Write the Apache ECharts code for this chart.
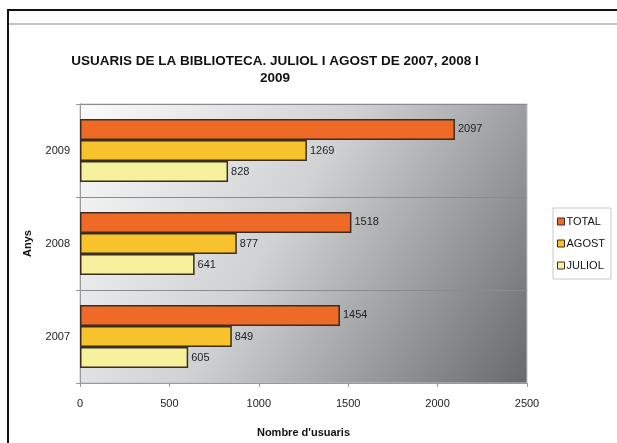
<!DOCTYPE html>
<html>
<head>
<meta charset="utf-8">
<script src="https://cdn.jsdelivr.net/npm/echarts@6/dist/echarts.min.js"></script>
<style>
  html, body { margin: 0; padding: 0; background: #fff; }
  #chart { width: 617px; height: 443px; }
</style>
</head>
<body>
<div id="chart"></div>
<script>
var anys = ['2007', '2008', '2009'];
var total = [1454, 1518, 2097];
var agost = [849, 877, 1269];
var juliol = [605, 641, 828];
var seriesNames = ['TOTAL', 'AGOST', 'JULIOL'];
var seriesColors = ['#ef6a26', '#f7c22b', '#f7f09c'];

var chart = echarts.init(document.getElementById('chart'));
var font = 'Liberation Sans, Arial, sans-serif';

function barSerie(name, data, color) {
  return {
    name: name,
    type: 'bar',
    data: data,
    barGap: 0,
    barCategoryGap: '32%',
    itemStyle: { color: color, borderColor: '#3a2e22', borderWidth: 1.5 },
    label: {
      show: true,
      position: 'right',
      distance: 3,
      color: '#222',
      fontFamily: font,
      fontSize: 11
    }
  };
}

chart.setOption({
  animation: false,
  backgroundColor: '#fff',
  graphic: [
    // frame of the screenshot
    { type: 'rect', shape: { x: 7, y: 9, width: 2, height: 434 }, style: { fill: '#111' } },
    { type: 'rect', shape: { x: 7, y: 9, width: 610, height: 2 }, style: { fill: '#111' } },
    { type: 'rect', shape: { x: 9, y: 23, width: 608, height: 2 }, style: { fill: '#c4c4c4' } }
  ],
  title: {
    text: 'USUARIS DE LA BIBLIOTECA. JULIOL I AGOST DE 2007, 2008 I\n2009',
    left: 270,
    top: 48,
    textAlign: 'center',
    textStyle: {
      fontFamily: font,
      fontSize: 13.5,
      fontWeight: 'bold',
      color: '#111',
      lineHeight: 17
    }
  },
  legend: {
    orient: 'vertical',
    left: 553,
    top: 208,
    data: seriesNames,
    icon: 'rect',
    itemWidth: 7,
    itemHeight: 7,
    itemGap: 11,
    padding: [8, 6, 8, 4],
    borderColor: '#c8c8c8',
    borderWidth: 1,
    itemStyle: { borderColor: '#3a2e22', borderWidth: 1 },
    textStyle: { fontFamily: font, fontSize: 11, color: '#111', padding: [0, 0, 0, -3] }
  },
  grid: {
    left: 80,
    right: 90,
    top: 104,
    bottom: 59,
    show: true,
    borderColor: '#c0c0c0',
    borderWidth: 1,
    backgroundColor: {
      type: 'linear', x: 0, y: 0, x2: 1, y2: 1,
      colorStops: [
        { offset: 0, color: '#fbfbfb' },
        { offset: 0.45, color: '#cfd1d3' },
        { offset: 1, color: '#68696d' }
      ]
    }
  },
  xAxis: {
    type: 'value',
    min: 0,
    max: 2500,
    interval: 500,
    name: "Nombre d'usuaris",
    nameLocation: 'middle',
    nameGap: 44,
    nameTextStyle: { fontFamily: font, fontSize: 11, fontWeight: 'bold', color: '#111' },
    axisLine: { show: true, lineStyle: { color: '#999' } },
    axisTick: { show: true, length: 4, lineStyle: { color: '#999' } },
    axisLabel: {
      fontFamily: font, fontSize: 11, color: '#222', margin: 15,
      formatter: function (v) { return String(v); }
    },
    splitLine: { show: false }
  },
  yAxis: {
    type: 'category',
    data: anys,
    name: 'Anys',
    nameLocation: 'middle',
    nameGap: 47,
    nameRotate: 90,
    nameTextStyle: { fontFamily: font, fontSize: 11, fontWeight: 'bold', color: '#111' },
    axisLine: { show: true, lineStyle: { color: '#999' } },
    axisTick: { show: true, length: 4, lineStyle: { color: '#999' } },
    axisLabel: { fontFamily: font, fontSize: 11, color: '#222', margin: 10 },
    splitLine: { show: true, lineStyle: { color: '#8a8b8e', width: 1 } }
  },
  series: [
    barSerie(seriesNames[0], total, seriesColors[0]),
    barSerie(seriesNames[1], agost, seriesColors[1]),
    barSerie(seriesNames[2], juliol, seriesColors[2])
  ]
});
</script>
</body>
</html>
